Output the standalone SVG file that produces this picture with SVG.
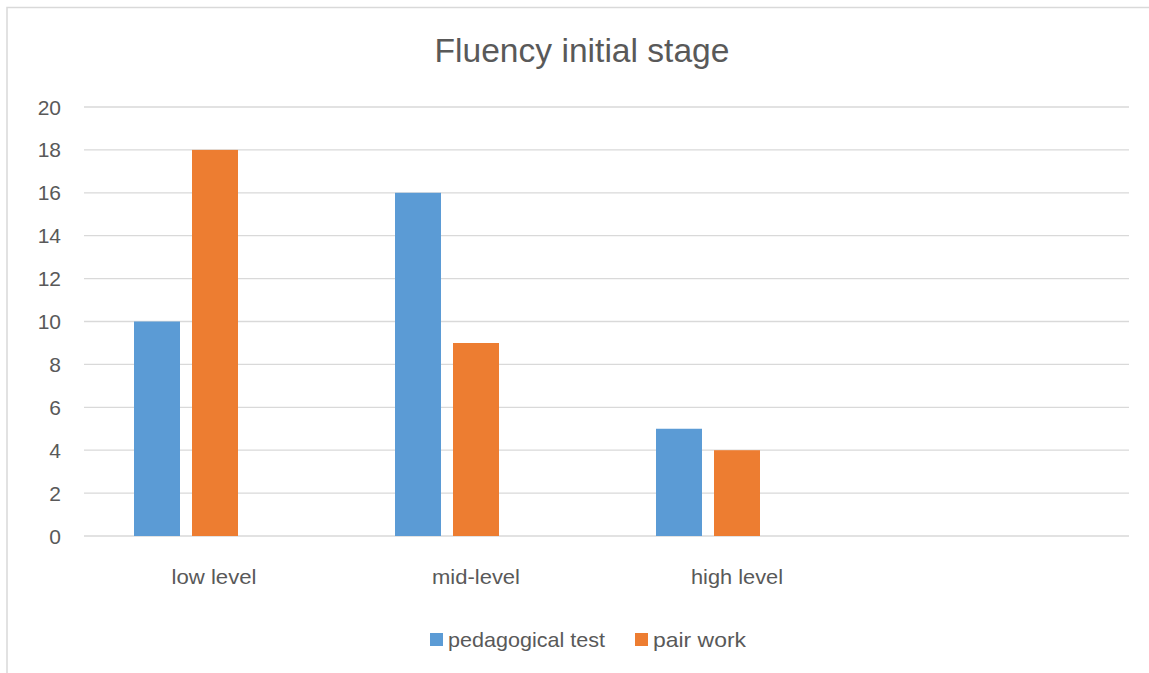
<svg xmlns="http://www.w3.org/2000/svg" width="1149" height="673" viewBox="0 0 1149 673">
<style>
.grid{stroke:#d9d9d9;stroke-width:1.3}
.ax{font-family:"Liberation Sans","Open Sans",sans-serif;font-size:21px;fill:#595959}
.ylab{text-anchor:end}
.xlab{text-anchor:middle}
.blue{fill:#5b9bd5}
.orange{fill:#ed7d31}
</style>
<rect x="0" y="0" width="1149" height="673" fill="#ffffff"/>
<path d="M7,680 V7.5 H1149" fill="none" stroke="#d9d9d9" stroke-width="1.5"/>
<text x="582" y="62" text-anchor="middle" font-family="Liberation Sans,Open Sans,sans-serif" font-size="33" fill="#595959" textLength="295" lengthAdjust="spacingAndGlyphs">Fluency initial stage</text>
<g id="gridlines">
<line class="grid" x1="84" y1="107" x2="1129" y2="107"/>
<line class="grid" x1="84" y1="149.9" x2="1129" y2="149.9"/>
<line class="grid" x1="84" y1="192.8" x2="1129" y2="192.8"/>
<line class="grid" x1="84" y1="235.7" x2="1129" y2="235.7"/>
<line class="grid" x1="84" y1="278.6" x2="1129" y2="278.6"/>
<line class="grid" x1="84" y1="321.5" x2="1129" y2="321.5"/>
<line class="grid" x1="84" y1="364.4" x2="1129" y2="364.4"/>
<line class="grid" x1="84" y1="407.3" x2="1129" y2="407.3"/>
<line class="grid" x1="84" y1="450.2" x2="1129" y2="450.2"/>
<line class="grid" x1="84" y1="493.1" x2="1129" y2="493.1"/>
<line class="grid" x1="84" y1="536" x2="1129" y2="536"/>
</g>
<g id="y-axis" class="ax ylab">
<text x="61" y="114.5">20</text>
<text x="61" y="157.4">18</text>
<text x="61" y="200.3">16</text>
<text x="61" y="243.2">14</text>
<text x="61" y="286.1">12</text>
<text x="61" y="329">10</text>
<text x="61" y="371.9">8</text>
<text x="61" y="414.8">6</text>
<text x="61" y="457.7">4</text>
<text x="61" y="500.6">2</text>
<text x="61" y="543.5">0</text>
</g>
<g id="bars">
<rect class="blue" x="134" y="321.5" width="46" height="214.5"/>
<rect class="orange" x="192" y="149.9" width="46" height="386.1"/>
<rect class="blue" x="395" y="192.8" width="46" height="343.2"/>
<rect class="orange" x="453" y="343" width="46" height="193"/>
<rect class="blue" x="656" y="428.75" width="46" height="107.25"/>
<rect class="orange" x="714" y="450.2" width="46" height="85.8"/>
</g>
<g id="x-axis" class="ax xlab">
<text x="214" y="584" textLength="85" lengthAdjust="spacingAndGlyphs">low level</text>
<text x="476" y="584" textLength="88" lengthAdjust="spacingAndGlyphs">mid-level</text>
<text x="737" y="584" textLength="92" lengthAdjust="spacingAndGlyphs">high level</text>
</g>
<g id="legend" class="ax">
<rect class="blue" x="430" y="633" width="13" height="13"/>
<text x="448" y="647" textLength="157" lengthAdjust="spacingAndGlyphs">pedagogical test</text>
<rect class="orange" x="635" y="633" width="13" height="13"/>
<text x="653" y="647" textLength="93" lengthAdjust="spacingAndGlyphs">pair work</text>
</g>
</svg>
